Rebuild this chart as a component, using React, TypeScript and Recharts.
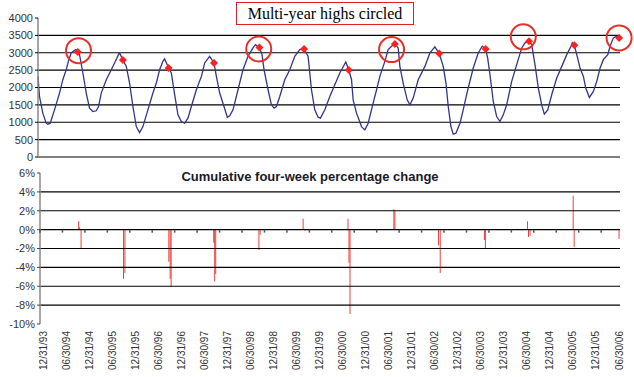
import {
  ComposedChart,
  Line,
  Scatter,
  Bar,
  XAxis,
  YAxis,
  ReferenceLine,
  ReferenceDot,
} from 'recharts'

// weekly working gas in storage at the turning points (x = year, 1994.0 = 12/31/93)
const storageYear = [
  1994.0, 1994.033, 1994.107, 1994.182, 1994.218, 1994.271, 1994.367, 1994.478, 1994.551, 1994.627,
  1994.684, 1994.738, 1994.833, 1994.862, 1994.884, 1994.922, 1994.996, 1995.071, 1995.144, 1995.218,
  1995.293, 1995.344, 1995.404, 1995.516, 1995.627, 1995.7, 1995.796, 1995.811, 1995.884, 1995.96,
  1996.033, 1996.107, 1996.182, 1996.256, 1996.329, 1996.44, 1996.551, 1996.627, 1996.7, 1996.773,
  1996.811, 1996.9, 1996.96, 1997.033, 1997.107, 1997.182, 1997.256, 1997.329, 1997.404, 1997.516,
  1997.627, 1997.7, 1997.811, 1997.907, 1997.96, 1998.033, 1998.129, 1998.204, 1998.256, 1998.329,
  1998.44, 1998.551, 1998.662, 1998.773, 1998.827, 1998.916, 1998.973, 1999.018, 1999.107, 1999.182,
  1999.24, 1999.293, 1999.367, 1999.478, 1999.589, 1999.7, 1999.811, 1999.907, 1999.996, 2000.071,
  2000.144, 2000.218, 2000.271, 2000.367, 2000.478, 2000.589, 2000.7, 2000.833, 2000.9, 2000.96,
  2000.996, 2001.071, 2001.182, 2001.256, 2001.329, 2001.44, 2001.516, 2001.589, 2001.7, 2001.773,
  2001.849, 2001.922, 2001.996, 2002.033, 2002.107, 2002.196, 2002.256, 2002.329, 2002.44, 2002.589,
  2002.7, 2002.811, 2002.907, 2002.996, 2003.056, 2003.107, 2003.167, 2003.218, 2003.278, 2003.367,
  2003.44, 2003.516, 2003.573, 2003.662, 2003.773, 2003.862, 2003.938, 2003.982, 2004.033, 2004.107,
  2004.182, 2004.256, 2004.329, 2004.404, 2004.516, 2004.627, 2004.738, 2004.811, 2004.9, 2004.96,
  2005.033, 2005.107, 2005.182, 2005.24, 2005.316, 2005.404, 2005.516, 2005.627, 2005.738, 2005.833,
  2005.862, 2005.907, 2005.96, 2006.033, 2006.107, 2006.16, 2006.24, 2006.329, 2006.404, 2006.478,
  2006.551, 2006.649, 2006.7, 2006.773, 2006.849, 2006.9, 2006.92,
]
const storageBcf = [
  2320, 1741, 1262, 973, 944, 973, 1357, 1840, 2224, 2513,
  2801, 2995, 3090, 3080, 3023, 2946, 2417, 1840, 1406, 1309,
  1330, 1453, 1840, 2224, 2513, 2706, 2975, 2995, 2793, 2608,
  2128, 1453, 875, 702, 875, 1357, 1840, 2128, 2513, 2752,
  2822, 2562, 2417, 1800, 1213, 1020, 973, 1118, 1453, 1935,
  2319, 2706, 2897, 2706, 2319, 1840, 1453, 1146, 1184, 1357,
  1935, 2513, 2897, 3139, 3235, 3148, 2946, 2513, 1935, 1502,
  1406, 1453, 1741, 2224, 2513, 2897, 3090, 3110, 2897, 1935,
  1357, 1146, 1118, 1357, 1741, 2079, 2417, 2735, 2504, 2224,
  1646, 1262, 875, 780, 973, 1551, 1935, 2319, 2752, 3090,
  3186, 3255, 3139, 2608, 2128, 1646, 1502, 1695, 2224, 2608,
  2995, 3168, 2975, 2608, 2128, 1453, 875, 655, 684, 973,
  1357, 1800, 2100, 2562, 2995, 3186, 3110, 2850, 2368, 1597,
  1164, 1020, 1213, 1502, 2175, 2657, 3139, 3284, 3330, 3235,
  2657, 1984, 1502, 1233, 1357, 1791, 2273, 2608, 2946, 3186,
  3284, 3214, 2946, 2562, 2319, 1984, 1713, 1886, 2175, 2562,
  2801, 2946, 3186, 3428, 3475, 3428, 3440,
]

// red diamonds
const highYear = [1994.884, 1995.884, 1996.9, 1997.907, 1998.916, 1999.907, 2000.9, 2001.922, 2002.907, 2003.938, 2004.9, 2005.907, 2006.9]
const highBcf = [3023, 2793, 2562, 2706, 3148, 3110, 2504, 3255, 2975, 3110, 3330, 3214, 3428]

// circled multi-year highs
const circleYear = [1994.9, 1998.9, 2001.849, 2004.773, 2006.9]
const circleBcf = [3061, 3110, 3090, 3457, 3428]

// cumulative four-week percentage change
const changeYear = [
  1994.862, 1994.884, 1994.916, 1995.862, 1995.893, 1996.871, 1996.9, 1996.922, 1997.871, 1997.893,
  1997.916, 1998.878, 1998.904, 1999.862, 1999.884, 1999.907, 2000.862, 2000.884, 2000.907, 2001.884,
  2001.907, 2002.878, 2002.916, 2003.9, 2003.922, 2004.862, 2004.884, 2004.916, 2005.878, 2005.9,
  2006.878, 2006.9,
]
const changePct = [
  0.88, 0.25, -2.0, -5.2, -4.6, -3.4, -5.2, -6.05, -1.4, -5.5,
  -4.7, -2.15, -0.55, 1.15, 0.1, -0.15, 1.15, -3.5, -8.95, 2.15,
  2.05, -1.65, -4.6, -1.1, -2.0, 0.88, -0.78, -0.65, 3.6, -1.85,
  0.1, -1.0,
]

const dateLabels = [
  '12/31/93', '06/30/94', '12/31/94', '06/30/95', '12/31/95', '06/30/96', '12/31/96', '06/30/97',
  '12/31/97', '06/30/98', '12/31/98', '06/30/99', '12/31/99', '06/30/00', '12/31/00', '06/30/01',
  '12/31/01', '06/30/02', '12/31/02', '06/30/03', '12/31/03', '06/30/04', '12/31/04', '06/30/05',
  '12/31/05', '06/30/06',
]
const storageTicks = [0, 500, 1000, 1500, 2000, 2500, 3000, 3500, 4000]
const storageGrid = [0, 500, 1000, 1500, 2000, 2500, 3000, 3500]
const pctTicks = [-10, -8, -6, -4, -2, 0, 2, 4, 6]
const pctGrid = [-8, -6, -4, -2, 0, 2, 4]

const X_DOMAIN: [number, number] = [1994, 2006.92]
const tickYears = dateLabels.map((_, i) => 1994 + i / 2)
const labelIdx = dateLabels.map((_, i) => i)

const storageRows = storageYear.map((yr, i) => ({ yr, bcf: storageBcf[i] }))
const highRows = highYear.map((yr, i) => ({ yr, bcf: highBcf[i] }))
const changeRows = changeYear.map((yr, i) => ({ yr, pct: changePct[i] }))
const zeroTickRows = tickYears.map((yr) => ({ yr, pct: 0 }))

const FONT = '"Liberation Sans", Arial, sans-serif'
const RED = '#ee2a24'

const Diamond = (p: any) => {
  const { cx, cy } = p
  const s = 4
  return <path d={`M${cx},${cy - s}L${cx + s},${cy}L${cx},${cy + s}L${cx - s},${cy}Z`} fill="#ff2020" />
}

const ZeroTick = (p: any) => {
  const { cx, cy } = p
  return <line x1={cx} x2={cx} y1={cy} y2={cy + 3} stroke="#555" strokeWidth={1.5} />
}

const DateTick = (p: any) => {
  const { x, y, payload } = p
  const ty = y - 1
  return (
    <text
      x={x + 1}
      y={ty}
      transform={`rotate(-90 ${x + 1} ${ty})`}
      textAnchor="end"
      dominantBaseline="central"
      fontSize={10}
      fontFamily={FONT}
      fill="#333"
    >
      {dateLabels[payload.value]}
    </text>
  )
}

export default function App() {
  return (
    <div style={{ position: 'absolute', left: 0, top: 0, width: 634, height: 377, background: '#fff', fontFamily: FONT }}>
      <div style={{ position: 'absolute', left: 0, top: 0 }}>
        <ComposedChart width={634} height={166} margin={{ top: 18, right: 14, bottom: 9, left: 8 }}>
          <XAxis dataKey="yr" type="number" domain={X_DOMAIN} hide />
          <YAxis
            type="number"
            domain={[0, 4000]}
            ticks={storageTicks}
            width={30}
            interval={0}
            axisLine={{ stroke: '#888', strokeWidth: 1.5 }}
            tickLine={{ stroke: '#000' }}
            tickSize={3}
            tickMargin={2}
            tick={{ fontSize: 11, fill: '#333', fontFamily: FONT }}
          />
          {storageGrid.map((v) => (
            <ReferenceLine key={v} y={v} stroke="#000" strokeWidth={1.2} />
          ))}
          <Line
            data={storageRows}
            dataKey="bcf"
            type="linear"
            stroke="#34348a"
            strokeWidth={1.3}
            dot={false}
            isAnimationActive={false}
          />
          <Scatter data={highRows} dataKey="bcf" shape={Diamond} isAnimationActive={false} />
          {circleYear.map((yr, i) => (
            <ReferenceDot key={yr} x={yr} y={circleBcf[i]} r={12.5} fill="none" stroke="#e8302a" strokeWidth={2} />
          ))}
        </ComposedChart>
      </div>

      <div
        style={{
          position: 'absolute',
          left: 236,
          top: 2,
          width: 178,
          height: 23,
          border: '1px solid #e02020',
          boxSizing: 'border-box',
          fontFamily: '"Liberation Serif", "Times New Roman", serif',
          fontSize: 16,
          lineHeight: '21px',
          textAlign: 'center',
          color: '#000',
        }}
      >
        Multi-year highs circled
      </div>

      <div style={{ position: 'absolute', left: 0, top: 160 }}>
        <ComposedChart width={634} height={217} data={changeRows} margin={{ top: 13, right: 14, bottom: 0, left: 8 }}>
          <XAxis
            xAxisId="labels"
            type="number"
            dataKey="idx"
            domain={[0, dateLabels.length - 1]}
            allowDataOverflow
            ticks={labelIdx}
            interval={0}
            padding={{ left: 2, right: 2 }}
            axisLine={false}
            tickLine={false}
            height={53}
            tick={DateTick}
          />
          <XAxis dataKey="yr" type="number" domain={X_DOMAIN} height={0} hide />
          <YAxis
            type="number"
            domain={[-10, 6]}
            ticks={pctTicks}
            width={32}
            interval={0}
            axisLine={{ stroke: '#888', strokeWidth: 1.5 }}
            tickLine={{ stroke: '#444' }}
            tickSize={3}
            tickMargin={2}
            tickFormatter={(v: number) => `${v}%`}
            tick={{ fontSize: 11, fill: '#333', fontFamily: FONT }}
          />
          {pctGrid.map((v) => (
            <ReferenceLine key={v} y={v} stroke="#000" strokeWidth={1.2} />
          ))}
          <Bar dataKey="pct" fill={RED} barSize={1.5} isAnimationActive={false} />
          <Scatter data={zeroTickRows} dataKey="pct" shape={ZeroTick} isAnimationActive={false} />
        </ComposedChart>
      </div>

      <div
        style={{
          position: 'absolute',
          left: 0,
          width: 620,
          top: 169,
          textAlign: 'center',
          fontFamily: FONT,
          fontWeight: 'bold',
          fontSize: 13,
          color: '#1a1a2a',
        }}
      >
        Cumulative four-week percentage change
      </div>
    </div>
  )
}
